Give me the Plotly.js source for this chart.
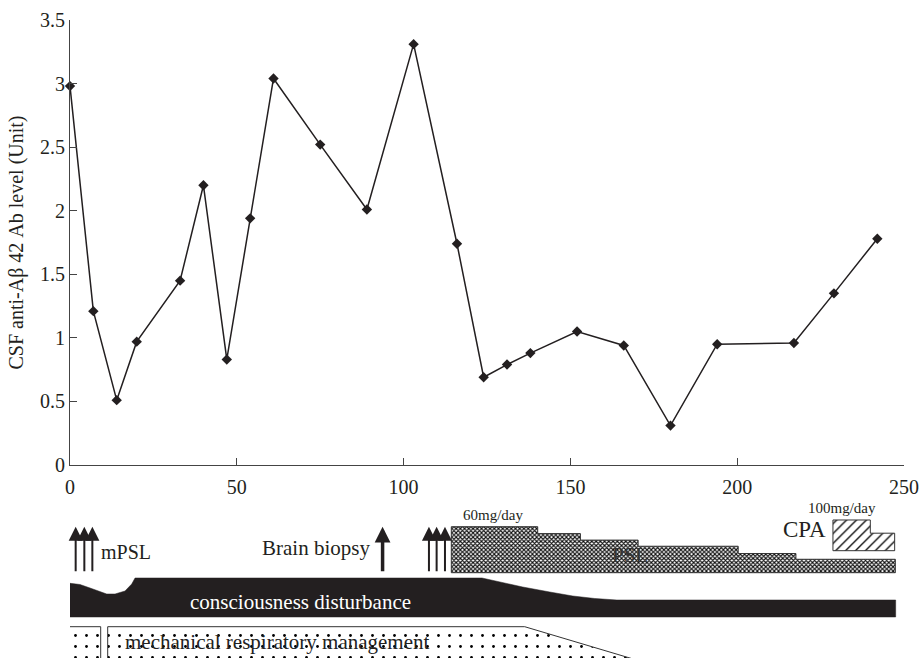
<!DOCTYPE html>
<html>
<head>
<meta charset="utf-8">
<script src="https://cdn.plot.ly/plotly-3.0.1.min.js"></script>
<style>html,body{margin:0;padding:0;background:#fff;}</style>
</head>
<body>
<div id="chart" style="width:919px;height:658px;"></div>
<script>
// ---- chart data ----
const days = [0, 7, 14, 20, 33, 40, 47, 54, 61, 75, 89, 103, 116, 124, 131, 138, 152, 166, 180, 194, 217, 229, 242];
const antiAb42 = [2.98, 1.21, 0.51, 0.97, 1.45, 2.20, 0.83, 1.94, 3.04, 2.52, 2.01, 3.31, 1.74, 0.69, 0.79, 0.88, 1.05, 0.94, 0.31, 0.95, 0.96, 1.35, 1.78];
const xTicks = [0, 50, 100, 150, 200, 250];

// ---- treatment timeline (days) ----
const mpslCourse1 = [1.7, 4.3, 6.7];
const mpslCourse2 = [107.6, 109.9, 112.4];
const biopsyDay = 93.7;
const pslStepDays = [114.3, 140.2, 153, 170.3, 200.3, 217.6, 247.4];
const pslDose = [60, 51, 42.5, 34.5, 25, 17.5];
const cpaStepDays = [228.7, 239.9, 247.2];
const cpaDose = [100, 57];
const ventPeriod1 = [-0.2, 9.2];
const ventPeriod2 = [11.3, 136.3, 167.8];
const consDays = [0, 3, 6, 9, 11, 13.5, 16.5, 18.5, 19.5, 123.5, 128.9, 135.7, 143.8, 150.7, 157.3, 163.9, 247.5];
const consTop = [583.3, 584.5, 588, 592, 594, 594, 591, 584, 578, 578, 582, 587, 592, 596, 598.5, 600, 600];

const INK = '#231f20';
const SERIF = 'Liberation Serif, Times New Roman, serif';

// diagram vertical layout (diagram units = pixel rows)
const pslBase = 572.7, pslScale = 0.767;
const cpaBase = 550.7, cpaScale = 0.307;
const arrowTop = 526.7, arrowBottom = 572.7;
const consBottom = 617;
const ventTop = 626.7, ventBottom = 700;

const traces = [];

// main series
traces.push({
  x: days, y: antiAb42, type: 'scatter', mode: 'lines+markers',
  xaxis: 'x', yaxis: 'y',
  line: {color: INK, width: 1.5},
  marker: {symbol: 'diamond', size: 8, color: INK},
  hoverinfo: 'skip', cliponaxis: false
});

// PSL step polygon
(function () {
  const xs = [], ys = [];
  xs.push(pslStepDays[0]); ys.push(pslBase);
  for (let i = 0; i < pslDose.length; i++) {
    const top = pslBase - pslDose[i] * pslScale;
    xs.push(pslStepDays[i]); ys.push(top);
    xs.push(pslStepDays[i + 1]); ys.push(top);
  }
  xs.push(pslStepDays[pslStepDays.length - 1]); ys.push(pslBase);
  xs.push(pslStepDays[0]); ys.push(pslBase);
  traces.push({
    x: xs, y: ys, xaxis: 'x', yaxis: 'y2', type: 'scatter', mode: 'lines',
    fill: 'toself', line: {color: '#333', width: 1},
    fillcolor: 'rgba(0,0,0,0)',
    fillpattern: {shape: 'x', size: 3, solidity: 0.6, fgcolor: '#111', bgcolor: '#fff'},
    hoverinfo: 'skip'
  });
})();

// CPA step polygon
(function () {
  const xs = [], ys = [];
  xs.push(cpaStepDays[0]); ys.push(cpaBase);
  for (let i = 0; i < cpaDose.length; i++) {
    const top = cpaBase - cpaDose[i] * cpaScale;
    xs.push(cpaStepDays[i]); ys.push(top);
    xs.push(cpaStepDays[i + 1]); ys.push(top);
  }
  xs.push(cpaStepDays[cpaStepDays.length - 1]); ys.push(cpaBase);
  xs.push(cpaStepDays[0]); ys.push(cpaBase);
  traces.push({
    x: xs, y: ys, xaxis: 'x', yaxis: 'y2', type: 'scatter', mode: 'lines',
    fill: 'toself', line: {color: '#333', width: 1},
    fillcolor: 'rgba(0,0,0,0)',
    fillpattern: {shape: '/', size: 7, solidity: 0.2, fgcolor: '#111', bgcolor: '#fff'},
    hoverinfo: 'skip'
  });
})();

// consciousness disturbance band
(function () {
  const xs = consDays.slice(), ys = consTop.slice();
  xs.push(consDays[consDays.length - 1]); ys.push(consBottom);
  xs.push(consDays[0]); ys.push(consBottom);
  xs.push(consDays[0]); ys.push(consTop[0]);
  traces.push({
    x: xs, y: ys, xaxis: 'x', yaxis: 'y2', type: 'scatter', mode: 'lines',
    fill: 'toself', fillcolor: INK, line: {color: INK, width: 0.5},
    hoverinfo: 'skip'
  });
})();

// mechanical respiratory management boxes
const ventPattern = {shape: '.', size: 11, solidity: 0.05, fgcolor: '#000', bgcolor: '#fff'};
traces.push({
  x: [ventPeriod1[0], ventPeriod1[0], ventPeriod1[1], ventPeriod1[1]],
  y: [ventBottom, ventTop, ventTop, ventBottom],
  xaxis: 'x', yaxis: 'y2', type: 'scatter', mode: 'lines',
  fill: 'toself', fillcolor: 'rgba(0,0,0,0)', fillpattern: ventPattern,
  line: {color: '#333', width: 1}, hoverinfo: 'skip'
});
(function () {
  const slope = (ventPeriod2[2] - ventPeriod2[1]) / (658 - ventTop);
  const endX = ventPeriod2[1] + slope * (ventBottom - ventTop);
  traces.push({
    x: [ventPeriod2[0], ventPeriod2[0], ventPeriod2[1], endX],
    y: [ventBottom, ventTop, ventTop, ventBottom],
    xaxis: 'x', yaxis: 'y2', type: 'scatter', mode: 'lines',
    fill: 'toself', fillcolor: 'rgba(0,0,0,0)', fillpattern: ventPattern,
    line: {color: '#333', width: 1}, hoverinfo: 'skip'
  });
})();

// annotations
const ann = [];
function arrow(day, width, size) {
  ann.push({x: day, y: arrowTop, ax: day, ay: arrowBottom, xref: 'x', yref: 'y2', axref: 'x', ayref: 'y2',
    showarrow: true, arrowhead: 2, arrowsize: size, arrowwidth: width, arrowcolor: INK, text: '',
    standoff: 0, startstandoff: 0});
}
mpslCourse1.forEach(d => arrow(d, 2, 1.4));
mpslCourse2.forEach(d => arrow(d, 2, 1.4));
arrow(biopsyDay, 3.5, 0.9);

function label(text, day, y, size, xanchor, color) {
  ann.push({text: text, x: day, y: y, xref: 'x', yref: 'y2', xanchor: xanchor || 'left', yanchor: 'middle',
    showarrow: false, font: {family: SERIF, size: size, color: color || INK}});
}
label('Days', -10.5, 518.3, 19, 'center');
label('mPSL', 8.6, 552, 20, 'left');
label('Brain biopsy', 90.6, 548, 21, 'right');
label('60mg/day', 117.2, 515, 15, 'left');
label('PSL', 167.8, 555, 21, 'center', '#333');
label('100mg/day', 220.6, 508, 15, 'left');
label('CPA', 213.1, 530, 23, 'left');
label('consciousness disturbance', 69.2, 601.7, 21, 'center', '#ffffff');
label('mechanical respiratory management', 62.3, 641.7, 21, 'center', '#222');

const layout = {
  width: 919, height: 658,
  margin: {l: 70, r: 15, t: 20, b: 0},
  paper_bgcolor: '#fff', plot_bgcolor: 'rgba(0,0,0,0)',
  showlegend: false,
  font: {family: SERIF, color: INK, size: 18},
  xaxis: {
    range: [0, 250], tickvals: xTicks, ticks: 'inside', ticklen: 7, tickcolor: '#444',
    showline: true, linecolor: '#444', linewidth: 1, showgrid: false, zeroline: false,
    anchor: 'y', tickfont: {family: SERIF, size: 20, color: INK}, fixedrange: true,
    ticklabelstandoff: 4
  },
  yaxis: {
    domain: [0.30251, 1], range: [0, 3.5], dtick: 0.5, tick0: 0, ticks: 'inside', ticklen: 7,
    tickcolor: '#444', showline: true, linecolor: '#444', linewidth: 1, showgrid: false, zeroline: false,
    tickfont: {family: SERIF, size: 20, color: INK}, fixedrange: true,
    title: {text: 'CSF anti-Aβ 42 Ab level (Unit)', font: {family: SERIF, size: 20, color: INK}, standoff: 10}
  },
  yaxis2: {domain: [0, 0.30251], range: [658, 465], visible: false, anchor: 'x', fixedrange: true},
  annotations: ann
};

Plotly.newPlot('chart', traces, layout, {displayModeBar: false, staticPlot: true});
</script>
</body>
</html>
